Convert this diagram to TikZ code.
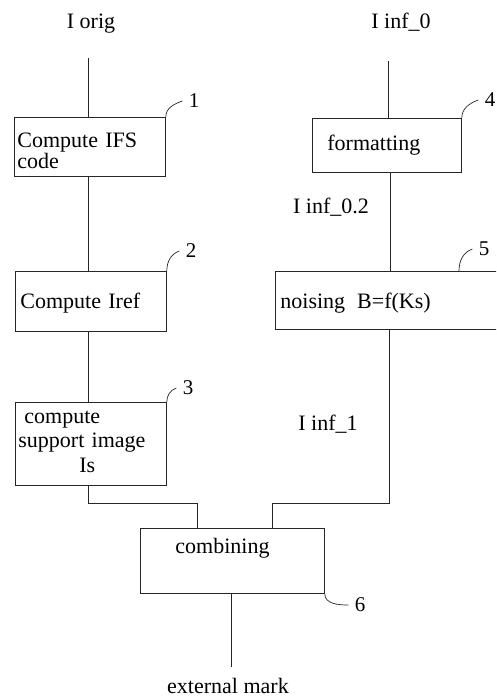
\documentclass[tikz,border=0pt]{standalone}
\usepackage{fontspec}
\setmainfont{Liberation Serif}
\begin{document}
\begin{tikzpicture}[x=1pt,y=-1pt, line width=0.8pt, draw=black!85,
  box/.style={draw=black!85, rectangle, anchor=north west, font=\fontsize{22}{21}\selectfont, align=left, inner ysep=0pt},
  num/.style={font=\fontsize{21}{21}\selectfont, inner xsep=6pt, inner ysep=0pt},
  txt/.style={font=\fontsize{22}{22}\selectfont, inner sep=0pt, anchor=base},
  leader/.style={line width=0.7pt}]
\useasboundingbox (0,0) rectangle (496,697);
\clip (0,0) rectangle (496,697);
% boxes
\node[box, minimum width=151pt, minimum height=59pt, text width=145pt, inner xsep=3pt, text height=22pt] (b1) at (14,117) {Compute IFS\\code};
\node[box, minimum width=151pt, minimum height=60pt, text width=141pt, inner xsep=5pt, text height=19pt] (b2) at (15,271) {Compute Iref};
\node[box, minimum width=151pt, minimum height=83pt, text width=145pt, inner xsep=3pt, text height=8pt, font=\fontsize{22}{24.5}\selectfont] (b3) at (15,402) {\hspace*{6pt}compute\\support image\\\hspace*{61pt}Is};
\node[box, minimum width=149pt, minimum height=54pt, text width=119pt, inner xsep=15pt] (b4) at (312,118) {formatting};
\node[box, minimum width=260pt, minimum height=58pt, text width=250pt, inner xsep=5pt, text height=21pt] (b5) at (275,271) {noising\hspace{12pt}B=f(Ks)};
\node[box, minimum width=184pt, minimum height=65pt, text width=114pt, inner xsep=35pt, text depth=31pt] (b6) at (140,528) {combining};
% texts
\node[txt] (iorig) at (91,28) {I orig};
\node[txt] (iinf0) at (401,28) {I inf\_0};
\node[txt] (iinf02) at (331,213) {I inf\_0.2};
\node[txt] (iinf1) at (328,430) {I inf\_1};
\node[txt] (ext) at (228,693) {external mark};
% connectors
\coordinate (a0) at (88,58);
\draw (a0) -- (a0 |- b1.north);
\draw (a0 |- b1.south) -- (a0 |- b2.north);
\draw (a0 |- b2.south) -- (a0 |- b3.north);
\coordinate (j1) at (197,503);
\draw (a0 |- b3.south) -- (a0 |- j1) -- (j1) -- (j1 |- b6.north);
\coordinate (r0) at (388,61);
\draw (r0) -- (r0 |- b4.north);
\coordinate (r1) at (390,0);
\draw (r1 |- b4.south) -- (r1 |- b5.north);
\coordinate (r2) at (389,0);
\coordinate (j2) at (272,503);
\draw (r2 |- b5.south) -- (r2 |- j2) -- (j2) -- (j2 |- b6.north);
\coordinate (em) at (231,667);
\draw (em |- b6.south) -- (em);
% reference numbers
\node[num] (l1) at (194,101) {1};
\node[num] (l2) at (191,251) {2};
\node[num] (l3) at (188,388) {3};
\node[num] (l4) at (490,100) {4};
\node[num] (l5) at (484,249) {5};
\node[num] (l6) at (360,605) {6};
\coordinate (c5) at (459,271);
\draw[leader] (b1.north east) to[out=90,in=200] (l1.west);
\draw[leader] (b2.north east) to[out=90,in=200] (l2.west);
\draw[leader] (b3.north east) to[out=90,in=200] (l3.west);
\draw[leader] (b4.north east) to[out=90,in=200] (l4.west);
\draw[leader] (c5) to[out=90,in=200] (l5.west);
\draw[leader] (b6.south east) to[out=-90,in=180] (l6.west);
\end{tikzpicture}
\end{document}
